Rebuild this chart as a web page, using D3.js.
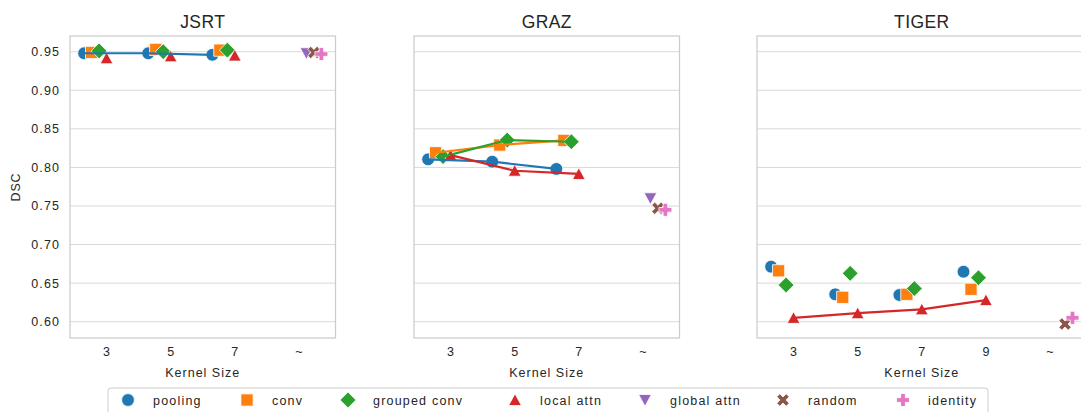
<!DOCTYPE html>
<html>
<head>
<meta charset="utf-8">
<script src="https://cdn.jsdelivr.net/npm/d3@7"></script>
<style>
  html, body { margin: 0; padding: 0; background: #fff; }
  svg { display: block; }
  text { font-family: "Liberation Sans", Arial, sans-serif; fill: #262626; }
</style>
</head>
<body>
<svg id="chart" width="1081" height="412"></svg>
<script>
// ---------------- data ----------------
const panelTitles = ["JSRT", "GRAZ", "TIGER"];
const jsrtCategories = ["3", "5", "7", "~"];
const grazCategories = ["3", "5", "7", "~"];
const tigerCategories = ["3", "5", "7", "9", "~"];
const methods = ["pooling", "conv", "grouped conv", "local attn", "global attn", "random", "identity"];
const methodColors = ["#1f77b4", "#ff7f0e", "#2ca02c", "#d62728", "#9467bd", "#8c564b", "#e377c2"];
const methodMarkers = ["circle", "square", "diamond", "triangleUp", "triangleDown", "x", "plus"];

// values[methodIndex][categoryIndex]
const jsrtValues = [
  [0.948, 0.948, 0.946, null],
  [0.949, 0.953, 0.952, null],
  [0.951, 0.950, 0.952, null],
  [0.9415, 0.944, 0.945, null],
  [null, null, null, 0.948],
  [null, null, null, 0.949],
  [null, null, null, 0.947]
];
const grazValues = [
  [0.8105, 0.8074, 0.798, null],
  [0.819, 0.829, 0.835, null],
  [0.814, 0.8355, 0.8333, null],
  [0.816, 0.7957, 0.7915, null],
  [null, null, null, 0.760],
  [null, null, null, 0.747],
  [null, null, null, 0.745]
];
const tigerValues = [
  [0.6713, 0.6355, 0.6346, 0.6648, null],
  [0.666, 0.6316, 0.6355, 0.642, null],
  [0.6476, 0.6627, 0.643, 0.657, null],
  [0.605, 0.611, 0.616, 0.628, null],
  [null, null, null, null, null],
  [null, null, null, null, 0.597],
  [null, null, null, null, 0.605]
];
// series drawn with connecting lines in each panel
const jsrtLines = ["pooling"];
const grazLines = ["pooling", "conv", "grouped conv", "local attn"];
const tigerLines = ["local attn"];
const yTicks = [0.60, 0.65, 0.70, 0.75, 0.80, 0.85, 0.90, 0.95];

// ---------------- layout ----------------
const svg = d3.select("#chart");
const plotTop = 36, plotBottom = 338;
const pxPerUnit = 64.13;
const pad = 0.57;
const panelLefts = [70, 414, 757];
const dodge = 0.7;

const panels = [
  { title: panelTitles[0], cats: jsrtCategories, vals: jsrtValues, lines: jsrtLines },
  { title: panelTitles[1], cats: grazCategories, vals: grazValues, lines: grazLines },
  { title: panelTitles[2], cats: tigerCategories, vals: tigerValues, lines: tigerLines }
];

const y = d3.scaleLinear().domain([0.57887, 0.97035]).range([plotBottom, plotTop]);

function markerPath(type) {
  const p = d3.path();
  switch (type) {
    case "circle": p.arc(0, 0, 6.4, 0, 2 * Math.PI); break;
    case "square": p.rect(-6.1, -6.1, 12.2, 12.2); break;
    case "diamond": p.moveTo(0, -7.9); p.lineTo(7.9, 0); p.lineTo(0, 7.9); p.lineTo(-7.9, 0); p.closePath(); break;
    case "triangleUp": p.moveTo(0, -6.2); p.lineTo(6.4, 5.5); p.lineTo(-6.4, 5.5); p.closePath(); break;
    case "triangleDown": p.moveTo(0, 6.2); p.lineTo(6.4, -5.5); p.lineTo(-6.4, -5.5); p.closePath(); break;
    case "x": {
      const a = 6.2, w = 3.0;
      const pts = [[-a + w, -a], [0, -w], [a - w, -a], [a, -a + w], [w, 0], [a, a - w], [a - w, a], [0, w], [-a + w, a], [-a, a - w], [-w, 0], [-a, -a + w]];
      p.moveTo(pts[0][0], pts[0][1]); pts.slice(1).forEach(q => p.lineTo(q[0], q[1])); p.closePath(); break;
    }
    case "plus": {
      const a = 6.5, w = 2.3;
      const pts = [[-w, -a], [w, -a], [w, -w], [a, -w], [a, w], [w, w], [w, a], [-w, a], [-w, w], [-a, w], [-a, -w], [-w, -w]];
      p.moveTo(pts[0][0], pts[0][1]); pts.slice(1).forEach(q => p.lineTo(q[0], q[1])); p.closePath(); break;
    }
  }
  return p.toString();
}

const nM = methods.length;
const offsets = d3.range(nM).map(i => -dodge / 2 + i * dodge / (nM - 1));

panels.forEach((pn, pi) => {
  const n = pn.cats.length;
  const left = panelLefts[pi];
  const width = (n - 1 + 2 * pad) * pxPerUnit;
  const x = d3.scaleLinear().domain([-pad, n - 1 + pad]).range([left, left + width]);
  const g = svg.append("g");

  // grid
  g.selectAll("line.grid").data(yTicks).join("line")
    .attr("x1", left).attr("x2", left + width)
    .attr("y1", d => y(d)).attr("y2", d => y(d))
    .attr("stroke", "#d9d9d9").attr("stroke-width", 1);

  // frame
  g.append("rect").attr("x", left).attr("y", plotTop).attr("width", width).attr("height", plotBottom - plotTop)
    .attr("fill", "none").attr("stroke", "#cccccc").attr("stroke-width", 1.25);

  // x tick labels
  const xAxis = d3.axisBottom(x).tickValues(d3.range(n)).tickFormat(i => pn.cats[i]).tickSize(0).tickPadding(9);
  const xa = g.append("g").attr("transform", `translate(0,${plotBottom})`).call(xAxis);
  xa.select(".domain").remove();
  xa.selectAll("text").attr("font-size", 12.5).attr("letter-spacing", 1.1)
    .style("font-family", '"Liberation Sans", Arial, sans-serif').attr("fill", "#262626");

  // y tick labels on first panel
  if (pi === 0) {
    const yAxis = d3.axisLeft(y).tickValues(yTicks).tickFormat(d3.format(".2f")).tickSize(0).tickPadding(10);
    const ya = g.append("g").attr("transform", `translate(${left},0)`).call(yAxis);
    ya.select(".domain").remove();
    ya.selectAll("text").attr("font-size", 12.5).attr("letter-spacing", 1.1)
      .style("font-family", '"Liberation Sans", Arial, sans-serif').attr("fill", "#262626");
    svg.append("text").attr("transform", `translate(20,${(plotTop + plotBottom) / 2}) rotate(-90)`)
      .attr("text-anchor", "middle").attr("font-size", 12.5).attr("letter-spacing", 0.8).text("DSC");
  }

  // title
  svg.append("text").attr("x", left + width / 2).attr("y", 28).attr("text-anchor", "middle")
    .attr("font-size", 17.5).attr("letter-spacing", 0.4).text(pn.title);
  // x label
  svg.append("text").attr("x", left + width / 2).attr("y", 377).attr("text-anchor", "middle")
    .attr("font-size", 12.5).attr("letter-spacing", 1.0).text("Kernel Size");

  // points (markers)
  const clipId = "clip" + pi;
  svg.append("clipPath").attr("id", clipId).append("rect")
    .attr("x", left).attr("y", plotTop - 10).attr("width", width).attr("height", plotBottom - plotTop + 20);
  const plot = g.append("g").attr("clip-path", `url(#${clipId})`);

  methods.forEach((m, mi) => {
    const pts = pn.vals[mi].map((v, ci) => ({ v, ci })).filter(d => d.v !== null);
    plot.selectAll(null).data(pts).join("path")
      .attr("d", markerPath(methodMarkers[mi]))
      .attr("transform", d => `translate(${x(d.ci + offsets[mi])},${y(d.v)})`)
      .attr("fill", methodColors[mi]).attr("stroke", "#fff").attr("stroke-width", 0.8);
  });
  // lines
  methods.forEach((m, mi) => {
    if (!pn.lines.includes(m)) return;
    const pts = pn.vals[mi].map((v, ci) => ({ v, ci })).filter(d => d.v !== null);
    const line = d3.line().x(d => x(d.ci + offsets[mi])).y(d => y(d.v));
    plot.append("path").datum(pts).attr("d", line).attr("fill", "none")
      .attr("stroke", methodColors[mi]).attr("stroke-width", 2.2);
  });
});

// legend
const legendX = [128, 247, 348, 515, 645, 783, 903];
const lg = svg.append("g");
lg.append("rect").attr("x", 108).attr("y", 388).attr("width", 880).attr("height", 32).attr("rx", 3)
  .attr("fill", "#fff").attr("stroke", "#cccccc").attr("stroke-width", 1);
methods.forEach((m, mi) => {
  lg.append("path").attr("d", markerPath(methodMarkers[mi]))
    .attr("transform", `translate(${legendX[mi]},400)`)
    .attr("fill", methodColors[mi]).attr("stroke", "#fff").attr("stroke-width", 0.8);
  lg.append("text").attr("x", legendX[mi] + 25).attr("y", 404.5)
    .attr("font-size", 12.5).attr("letter-spacing", 1.2).text(m);
});
</script>
</body>
</html>
